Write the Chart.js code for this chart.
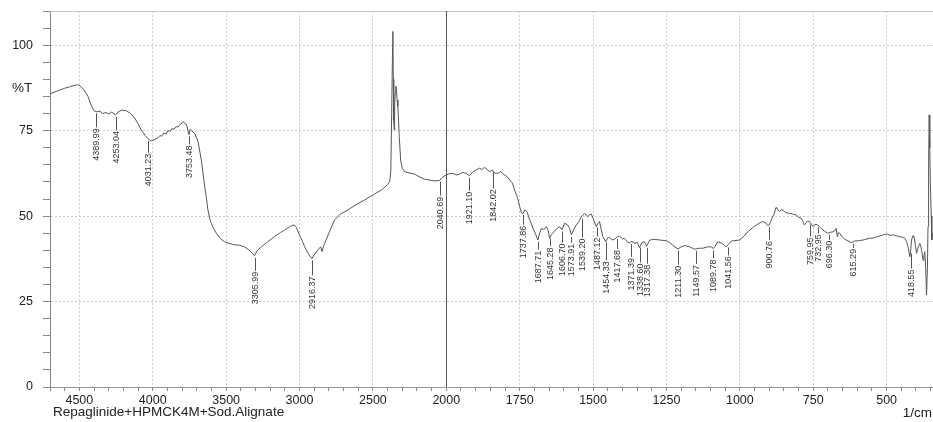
<!DOCTYPE html>
<html>
<head>
<meta charset="utf-8">
<title>FTIR - Repaglinide+HPMCK4M+Sod.Alignate</title>
<script src="https://cdn.jsdelivr.net/npm/chart.js@4.4.1/dist/chart.umd.min.js"></script>
<style>
  html, body { margin: 0; padding: 0; background: #fff; }
  canvas { display: block; }
</style>
</head>
<body>
<canvas id="ftir" width="933" height="422"></canvas>
<script>
// spectrum (1/cm, %T)
const wavenumbers = [
  4700, 4650, 4600, 4560, 4520, 4500, 4470, 4441, 4420, 4400, 4380, 4360, 4340, 4320, 4300, 4280, 4253, 4235, 4210, 4180,
  4150, 4123, 4100, 4078, 4050, 4031, 4010, 3990, 3965, 3950, 3940, 3925, 3910, 3895, 3880, 3870, 3855, 3840, 3829, 3815,
  3800, 3790, 3780, 3770, 3760, 3753, 3745, 3735, 3714, 3700, 3690, 3669, 3646, 3635, 3624, 3610, 3601, 3590, 3580, 3567,
  3540, 3511, 3480, 3443, 3410, 3375, 3350, 3330, 3306, 3290, 3260, 3220, 3170, 3130, 3101, 3070, 3045, 3030, 3022, 3000,
  2980, 2965, 2940, 2916, 2895, 2875, 2856, 2847, 2838, 2829, 2800, 2761, 2720, 2670, 2620, 2557, 2500, 2443, 2400, 2386,
  2378, 2372, 2366, 2364, 2361, 2358, 2355, 2352, 2348, 2344, 2340, 2335, 2330, 2320, 2311, 2300, 2284, 2250, 2216, 2180,
  2148, 2110, 2080, 2046, 2030, 2012, 2000, 1990, 1977, 1965, 1955, 1945, 1932, 1921, 1909, 1898, 1887, 1878, 1870, 1860,
  1853, 1843, 1835, 1824, 1815, 1801, 1792, 1784, 1776, 1767, 1758, 1750, 1744, 1739, 1732, 1725, 1716, 1710, 1705, 1697,
  1688, 1682, 1676, 1668, 1659, 1653, 1648, 1643, 1637, 1625, 1614, 1606, 1597, 1588, 1580, 1574, 1566, 1557, 1548, 1540,
  1529, 1518, 1512, 1506, 1498, 1489, 1484, 1478, 1467, 1457, 1450, 1444, 1435, 1427, 1418, 1410, 1400, 1393, 1383, 1376,
  1368, 1358, 1350, 1342, 1334, 1325, 1318, 1307, 1290, 1273, 1251, 1239, 1225, 1211, 1200, 1188, 1171, 1154, 1140, 1126,
  1110, 1097, 1090, 1075, 1060, 1046, 1040, 1029, 1001, 985, 973, 958, 944, 932, 922, 912, 905, 900, 893, 884,
  876, 870, 865, 860, 854, 843, 831, 820, 808, 800, 791, 785, 780, 770, 762, 756, 751, 744, 734, 725,
  717, 708, 700, 690, 683, 676, 672, 668, 664, 660, 652, 643, 632, 621, 610, 593, 575, 559, 545, 531,
  515, 500, 490, 477, 466, 455, 445, 438, 432, 427, 421, 418, 415, 411, 407, 402, 398, 392, 387, 384,
  381, 376, 373, 370, 367, 364, 361, 359, 357, 355, 353, 351, 348, 346, 343
];
const transmittance = [
  85.8, 86.6, 87.4, 87.9, 88.4, 88.3, 87.0, 85.0, 82.5, 80.8, 80.5, 80.7, 80.0, 80.3, 79.9, 80.4, 79.6, 80.5, 81.0, 80.8,
  80.0, 78.7, 77.0, 75.2, 73.5, 72.6, 72.0, 72.3, 72.9, 73.6, 73.3, 74.3, 74.0, 75.0, 74.8, 75.6, 75.4, 76.2, 76.0, 76.8,
  77.2, 77.6, 77.0, 76.8, 75.0, 73.8, 75.4, 75.0, 74.1, 72.8, 71.5, 66.4, 58.6, 55.5, 51.8, 49.0, 47.9, 46.8, 46.0, 45.0,
  43.5, 42.5, 42.0, 41.6, 41.5, 41.0, 40.3, 39.5, 38.4, 39.8, 41.0, 42.4, 44.0, 45.2, 45.9, 46.8, 47.4, 47.2, 46.7, 44.5,
  42.6, 41.0, 39.0, 37.6, 39.0, 40.1, 41.0, 39.6, 41.0, 42.0, 45.0, 48.9, 50.6, 51.8, 53.2, 54.7, 56.2, 57.6, 59.2, 60.1,
  63.0, 80.0, 100.0, 104.0, 90.0, 78.0, 75.2, 82.0, 86.0, 88.0, 87.5, 84.0, 82.1, 73.0, 66.4, 64.0, 63.0, 62.6, 62.3, 61.4,
  60.8, 60.5, 60.3, 60.4, 61.2, 61.8, 62.0, 62.4, 62.5, 62.0, 62.3, 62.8, 62.5, 61.8, 63.0, 63.5, 64.0, 63.6, 64.3, 63.5,
  63.0, 63.5, 62.6, 62.5, 63.0, 62.0, 61.5, 60.6, 59.8, 57.6, 55.5, 52.8, 50.9, 50.8, 51.8, 51.3, 48.9, 47.8, 46.4, 45.0,
  43.0, 45.0, 46.4, 46.0, 46.9, 45.8, 43.5, 44.5, 45.0, 46.2, 46.9, 46.0, 47.9, 47.5, 46.4, 44.5, 46.0, 47.4, 48.5, 49.8,
  50.8, 49.8, 50.4, 50.6, 48.9, 46.9, 47.8, 48.4, 44.0, 42.5, 43.6, 43.8, 43.0, 43.2, 43.9, 44.2, 43.3, 43.5, 42.4, 42.2,
  42.6, 42.0, 42.4, 40.8, 42.2, 42.5, 41.2, 43.0, 43.2, 43.0, 42.8, 42.3, 41.2, 40.4, 41.0, 41.4, 41.0, 40.3, 40.6, 40.6,
  41.0, 41.0, 40.5, 42.5, 42.0, 41.0, 41.6, 42.7, 43.0, 44.2, 45.4, 46.5, 47.4, 48.0, 48.4, 48.0, 47.2, 47.4, 48.9, 50.5,
  52.6, 51.8, 51.3, 51.8, 51.8, 51.0, 50.8, 50.6, 50.3, 49.6, 49.4, 48.4, 47.4, 48.5, 48.4, 47.6, 46.9, 47.6, 47.4, 46.6,
  45.9, 45.4, 45.0, 45.3, 45.4, 45.8, 46.4, 44.0, 45.2, 45.0, 44.0, 43.2, 42.8, 42.2, 42.7, 42.8, 43.1, 43.5, 43.6, 44.0,
  44.4, 44.8, 44.4, 44.5, 44.2, 44.0, 43.8, 43.5, 42.5, 41.0, 38.1, 40.0, 43.0, 44.2, 44.2, 41.5, 39.1, 41.0, 42.0, 41.2,
  40.1, 37.1, 38.5, 39.6, 35.0, 26.9, 35.0, 46.9, 65.0, 79.6, 70.0, 59.6, 50.0, 43.0, 45.0
];
const peakWavenumbers = [
  4389.99, 4253.04, 4031.23, 3753.48, 3305.99, 2916.37, 2040.69, 1921.10, 1842.02, 1737.86,
  1687.71, 1645.28, 1606.70, 1573.91, 1539.20, 1487.12, 1454.33, 1417.68, 1371.39, 1338.60,
  1317.38, 1211.30, 1149.57, 1089.78, 1041.56, 900.76, 759.95, 732.95, 696.30, 615.29, 418.55
];
const xTickLabels = [4500, 4000, 3500, 3000, 2500, 2000, 1750, 1500, 1250, 1000, 750, 500];
const yTickLabels = [0, 25, 50, 75, 100];
const sampleName = 'Repaglinide+HPMCK4M+Sod.Alignate';
const xUnit = '1/cm';
const yUnit = '%T';

// the instrument plots 4700-2000 at half the scale of 2000-350
function toAxis(w) { return w > 2000 ? 2000 + (w - 2000) / 2 : w; }
function fromAxis(u) { return u > 2000 ? 2000 + (u - 2000) * 2 : u; }

function transAt(w) {
  for (let i = 0; i < wavenumbers.length - 1; i++) {
    const a = wavenumbers[i], b = wavenumbers[i + 1];
    if (w <= a && w >= b) {
      const t = (a - w) / (a - b);
      return transmittance[i] + t * (transmittance[i + 1] - transmittance[i]);
    }
  }
  return transmittance[transmittance.length - 1];
}

const minorTicks = [];
for (let u = 350; u <= 3350; u += 50) minorTicks.push(u);

const TITLE_FONT = '13.5px "Liberation Sans", Arial, sans-serif';

const peakLabels = {
  id: 'peakLabels',
  beforeDatasetsDraw(chart) {
    const { ctx, chartArea, scales: { x } } = chart;
    ctx.save();
    // top frame line
    ctx.strokeStyle = '#c4c4c4';
    ctx.lineWidth = 1;
    ctx.beginPath();
    ctx.moveTo(chartArea.left, Math.round(chartArea.top) + 0.5);
    ctx.lineTo(chartArea.right, Math.round(chartArea.top) + 0.5);
    ctx.stroke();
    // scale change at 2000
    const bx = Math.round(x.getPixelForValue(2000)) + 0.5;
    ctx.strokeStyle = '#555';
    ctx.beginPath();
    ctx.moveTo(bx, chartArea.top);
    ctx.lineTo(bx, chartArea.bottom);
    ctx.stroke();
    ctx.restore();
  },
  afterDatasetsDraw(chart, args, opts) {
    const { ctx, scales: { x, y } } = chart;
    ctx.save();
    ctx.strokeStyle = '#555';
    ctx.fillStyle = '#333';
    ctx.lineWidth = 1;
    ctx.font = '9px "Liberation Sans Narrow", "Liberation Sans", Arial, sans-serif';
    peakWavenumbers.forEach((w, i) => {
      const px = Math.round(x.getPixelForValue(toAxis(w))) + 0.5;
      const py = y.getPixelForValue(transAt(w));
      const bottom = py + opts.leader[i];
      ctx.beginPath();
      ctx.moveTo(px, py + 2);
      ctx.lineTo(px, bottom);
      ctx.stroke();
      ctx.save();
      ctx.translate(px, bottom + 1);
      ctx.rotate(-Math.PI / 2);
      ctx.textAlign = 'right';
      ctx.textBaseline = 'middle';
      ctx.fillText(w.toFixed(2), 0, 0);
      ctx.restore();
    });

    ctx.fillStyle = '#222';
    ctx.font = TITLE_FONT;
    ctx.textBaseline = 'middle';
    ctx.textAlign = 'left';
    ctx.fillText(yUnit, 12, 88);
    ctx.fillText(sampleName, 53, 412);
    ctx.textAlign = 'right';
    ctx.fillText(xUnit, 932, 413);
    ctx.restore();
  }
};

new Chart(document.getElementById('ftir'), {
  type: 'line',
  data: {
    datasets: [{
      data: wavenumbers.map((w, i) => ({ x: toAxis(w), y: transmittance[i] })),
      borderColor: '#555',
      borderWidth: 1,
      pointRadius: 0,
      tension: 0,
      fill: false
    }]
  },
  options: {
    responsive: false,
    animation: false,
    devicePixelRatio: 1,
    layout: { padding: { top: 11, left: 0, right: 0, bottom: 0 } },
    plugins: {
      legend: { display: false },
      tooltip: { enabled: false },
      peakLabels: {
        leader: [16, 15, 14, 10, 15, 17, 16, 15, 18, 12, 10, 10, 13, 8, 21, 11, 20, 12, 15, 17, 18, 16, 15, 10, 10, 15, 14, 8, 7, 6, 17]
      }
    },
    scales: {
      x: {
        type: 'linear',
        reverse: true,
        min: 342,
        max: 3350,
        afterBuildTicks: axis => { axis.ticks = minorTicks.map(v => ({ value: v })); },
        afterFit: scale => {
          scale.height = 35;
          scale.paddingLeft = 0;
          scale.paddingRight = 0;
        },
        ticks: {
          autoSkip: false,
          maxRotation: 0,
          minRotation: 0,
          padding: 2,
          color: '#222',
          font: { family: '"Liberation Sans", Arial, sans-serif', size: 12.5 },
          callback: v => xTickLabels.includes(fromAxis(v)) ? String(fromAxis(v)) : ''
        },
        grid: {
          color: c => (c.tick && c.tick.value % 250 === 0 && c.tick.value !== 2000) ? '#cdcdcd' : 'rgba(0,0,0,0)',
          tickColor: '#888',
          tickLength: 4,
          lineWidth: 1
        },
        border: { color: '#999', dash: [2, 2] }
      },
      y: {
        min: 0,
        max: 110,
        afterFit: scale => {
          scale.width = 50;
          scale.paddingTop = 0;
          scale.paddingBottom = 0;
        },
        ticks: {
          stepSize: 5,
          autoSkip: false,
          padding: 10,
          color: '#222',
          font: { family: '"Liberation Sans", Arial, sans-serif', size: 12.5 },
          callback: v => yTickLabels.includes(v) ? String(v) : ''
        },
        grid: {
          color: c => (c.tick && c.tick.value % 25 === 0 && c.tick.value > 0 && c.tick.value < 110) ? '#cdcdcd' : 'rgba(0,0,0,0)',
          tickColor: '#888',
          tickLength: 7,
          lineWidth: 1
        },
        border: { color: '#888', dash: [2, 2] }
      }
    }
  },
  plugins: [peakLabels]
});
</script>
</body>
</html>
